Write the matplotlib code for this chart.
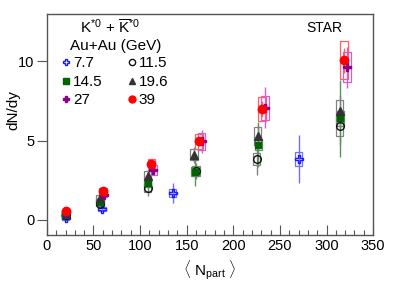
import matplotlib
matplotlib.use("Agg")
import matplotlib.pyplot as plt
from matplotlib.patches import Rectangle
from matplotlib.lines import Line2D
from matplotlib.ticker import MultipleLocator

plt.rcParams['font.family'] = ['Liberation Sans', 'DejaVu Sans']
plt.rcParams['mathtext.fontset'] = 'custom'
plt.rcParams['mathtext.rm'] = 'Liberation Sans'
plt.rcParams['mathtext.it'] = 'Liberation Sans:italic'

# Data: <Npart>, dN/dy, stat and sys errors
energies = ['7.7', '11.5', '14.5', '19.6', '27', '39']

npart_77 = [20, 59, 135, 270]
dndy_77 = [0.1, 0.7, 1.7, 3.85]
stat_77 = [0.1, 0.15, 0.65, 1.5]
sys_77 = [0.08, 0.12, 0.23, 0.45]

npart_115 = [20, 57, 108, 160, 225, 314]
dndy_115 = [0.3, 1.0, 2.0, 3.1, 3.85, 5.9]
stat_115 = [0.1, 0.2, 0.5, 0.5, 1.0, 1.2]
sys_115 = [0.08, 0.15, 0.25, 0.3, 0.4, 0.6]

npart_145 = [19, 57, 108, 159, 227, 315]
dndy_145 = [0.3, 1.15, 2.3, 3.05, 4.75, 6.4]
stat_145 = [0.1, 0.2, 0.35, 0.9, 1.4, 2.4]
sys_145 = [0.08, 0.15, 0.2, 0.3, 0.35, 0.5]

npart_196 = [20, 57, 108, 158, 226, 314]
dndy_196 = [0.4, 1.4, 2.8, 4.1, 5.3, 6.85]
stat_196 = [0.1, 0.2, 0.4, 0.5, 0.7, 1.0]
sys_196 = [0.08, 0.2, 0.3, 0.35, 0.55, 0.7]

npart_27 = [21, 61, 114, 166, 234, 322]
dndy_27 = [0.5, 1.6, 3.15, 4.95, 7.07, 9.64]
stat_27 = [0.1, 0.15, 0.3, 0.75, 1.3, 1.3]
sys_27 = [0.1, 0.15, 0.3, 0.55, 0.75, 0.95]

npart_39 = [20, 60, 112, 163, 231, 319]
dndy_39 = [0.55, 1.8, 3.55, 4.95, 7.0, 10.06]
stat_39 = [0.05, 0.1, 0.15, 0.3, 0.5, 0.8]
sys_39 = [0.1, 0.2, 0.3, 0.47, 0.75, 1.2]

series = [
    # x, y, stat, sys, color, box color, marker, filled, size
    (npart_77, dndy_77, stat_77, sys_77, '#1a1aff', '#6f6fff', 'P', False, 5.5),
    (npart_115, dndy_115, stat_115, sys_115, '#111111', '#808080', 'o', False, 5.5),
    (npart_145, dndy_145, stat_145, sys_145, '#006400', '#5a945a', 's', True, 5),
    (npart_196, dndy_196, stat_196, sys_196, '#333333', '#808080', '^', True, 5.5),
    (npart_27, dndy_27, stat_27, sys_27, '#8b008b', '#d060d0', 'P', True, 5.5),
    (npart_39, dndy_39, stat_39, sys_39, '#ff0000', '#ff6060', 'o', True, 6),
]

BOX_HALF = 4.0

fig = plt.figure(figsize=(3.94, 2.89), dpi=100)
ax = fig.add_axes([0.119, 0.187, 0.828, 0.765])

handles = []
for (x, y, st, sy, col, bcol, mk, filled, ms), lab in zip(series, energies):
    for xi, yi, si, bi in zip(x, y, st, sy):
        ax.add_patch(Rectangle((xi - BOX_HALF, yi - bi), 2 * BOX_HALF, 2 * bi,
                               fill=False, edgecolor=bcol, lw=0.9, zorder=2))
    ax.errorbar(x, y, yerr=st, fmt='none', ecolor=bcol, elinewidth=1.0,
                capsize=0, zorder=3)
    mfc = col if filled else 'none'
    ax.plot(x, y, linestyle='none', marker=mk, ms=ms, mfc=mfc, mec=col,
            mew=1.0, zorder=4)
    handles.append(Line2D([], [], linestyle='none', marker=mk, ms=ms - 1,
                          mfc=mfc, mec=col, mew=1.0, label=lab))

ax.set_xlim(0, 350)
ax.set_ylim(-0.95, 13.0)
ax.xaxis.set_major_locator(MultipleLocator(50))
ax.xaxis.set_minor_locator(MultipleLocator(10))
ax.set_yticks([0, 5, 10])
ax.tick_params(axis='x', which='major', direction='in', length=7, width=0.8,
               colors='#555555', labelcolor='black', labelsize=10.5, pad=3)
ax.tick_params(axis='x', which='minor', direction='in', length=3.5, width=0.8,
               colors='#555555')
ax.tick_params(axis='y', which='major', direction='out', length=7, width=0.8,
               colors='#555555', labelcolor='black', labelsize=10.5, pad=2)
for sp in ax.spines.values():
    sp.set_color('#555555')
    sp.set_linewidth(1.0)

ax.set_xlabel(r'$\langle\ \mathrm{N}_{\mathrm{part}}\ \rangle$', fontsize=11, labelpad=4)
fig.text(13 / 394, 1 - 110 / 289, 'dN/dy', rotation=90, fontsize=11,
         ha='center', va='center')

ax.text(0.85, 0.935, 'STAR', transform=ax.transAxes, fontsize=10, va='center', ha='center')
ax.text(0.1, 0.935, r'$\mathrm{K}^{*0}$ + $\overline{\mathrm{K}}^{*0}$',
        transform=ax.transAxes, fontsize=11, va='center', ha='left')
ax.text(0.07, 0.855, 'Au+Au (GeV)', transform=ax.transAxes, fontsize=11,
        va='center', ha='left')

order = [0, 2, 4, 1, 3, 5]
ax.legend([handles[i] for i in order], [energies[i] for i in order],
          ncol=2, loc='upper left', bbox_to_anchor=(0.045, 0.808),
          frameon=False, fontsize=11, handlelength=0.6, handletextpad=0.15,
          columnspacing=1.6, labelspacing=0.3, borderaxespad=0,
          borderpad=0)

fig.savefig('out.png', dpi=100)
